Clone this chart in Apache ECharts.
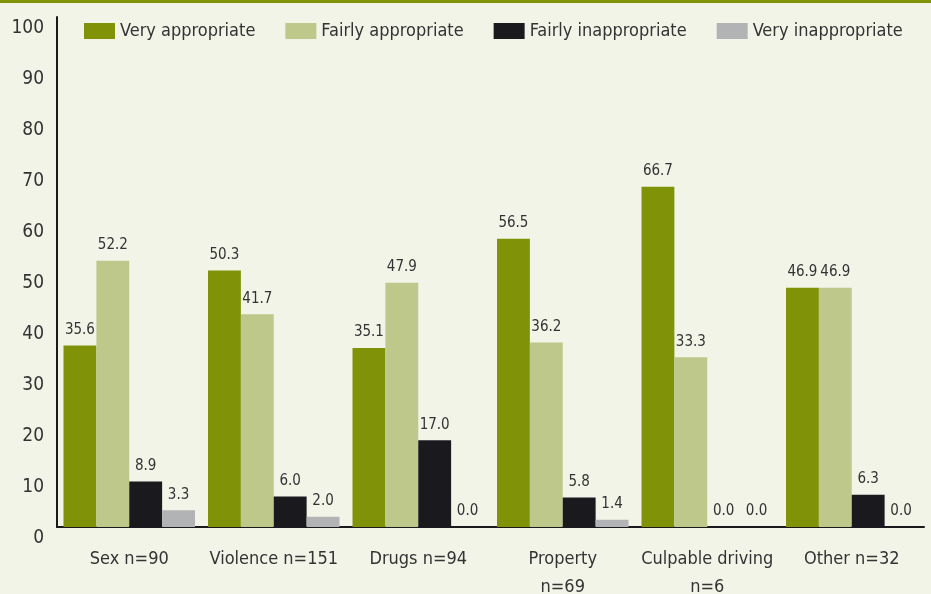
<!DOCTYPE html>
<html><head><meta charset="utf-8">
<script src="https://cdn.jsdelivr.net/npm/echarts@6/dist/echarts.min.js"></script>
<style>html,body{margin:0;padding:0;background:#f2f4e8;}#c{width:931px;height:594px;}</style>
</head><body><div id="c"></div>
<script>
var categories = ['Sex n=90', 'Violence n=151', 'Drugs n=94', 'Property\nn=69', 'Culpable driving\nn=6', 'Other n=32'];
var veryAppropriate = [35.6, 50.3, 35.1, 56.5, 66.7, 46.9];
var fairlyAppropriate = [52.2, 41.7, 47.9, 36.2, 33.3, 46.9];
var fairlyInappropriate = [8.9, 6.0, 17.0, 5.8, 0.0, 6.3];
var veryInappropriate = [3.3, 2.0, 0.0, 1.4, 0.0, 0.0];
var yTicks = [0, 10, 20, 30, 40, 50, 60, 70, 80, 90, 100];

var FONT = '"DejaVu Sans Condensed", "Liberation Sans Narrow", "Liberation Sans", Arial, sans-serif';
var txt = '#333333';
function mk(name, data, color) {
  return {
    name: name, type: 'bar', data: data, barGap: 0, barCategoryGap: '9%',
    itemStyle: { color: color },
    label: { show: true, position: 'top', distance: 8, color: txt, fontFamily: FONT, fontSize: 15,
      formatter: function (p) { return p.value.toFixed(1); } }
  };
}
var chart = echarts.init(document.getElementById('c'));
chart.setOption({
  backgroundColor: '#f2f4e8',
  animation: false,
  graphic: [{ type: 'rect', left: 0, top: 0, shape: { width: 931, height: 3 }, style: { fill: '#7f9208' } }],
  legend: {
    top: 22, left: 84, padding: 0, itemWidth: 31, itemHeight: 16, itemGap: 30, icon: 'rect',
    textStyle: { color: txt, fontFamily: FONT, fontSize: 18 },
    data: ['Very appropriate', 'Fairly appropriate', 'Fairly inappropriate', 'Very inappropriate']
  },
  grid: { left: 57, right: 7, top: 17, bottom: 67, containLabel: false, outerBoundsMode: 'none' },
  xAxis: {
    type: 'category', data: categories,
    axisLine: { lineStyle: { color: '#1a1a1e', width: 2 } },
    axisTick: { show: false },
    axisLabel: { color: txt, fontFamily: FONT, fontSize: 18, margin: 18, lineHeight: 28, interval: 0 }
  },
  yAxis: {
    type: 'value', min: yTicks[0], max: yTicks[yTicks.length - 1], interval: 10,
    axisLine: { show: true, lineStyle: { color: '#1a1a1e', width: 2 } },
    axisTick: { show: false }, splitLine: { show: false },
    axisLabel: { color: txt, fontFamily: FONT, fontSize: 19, margin: 13, verticalAlign: 'top', padding: [2, 0, 0, 0] }
  },
  series: [
    mk('Very appropriate', veryAppropriate, '#7f9208'),
    mk('Fairly appropriate', fairlyAppropriate, '#bec88a'),
    mk('Fairly inappropriate', fairlyInappropriate, '#1a1a1e'),
    mk('Very inappropriate', veryInappropriate, '#b2b3b5')
  ]
});
</script></body></html>
